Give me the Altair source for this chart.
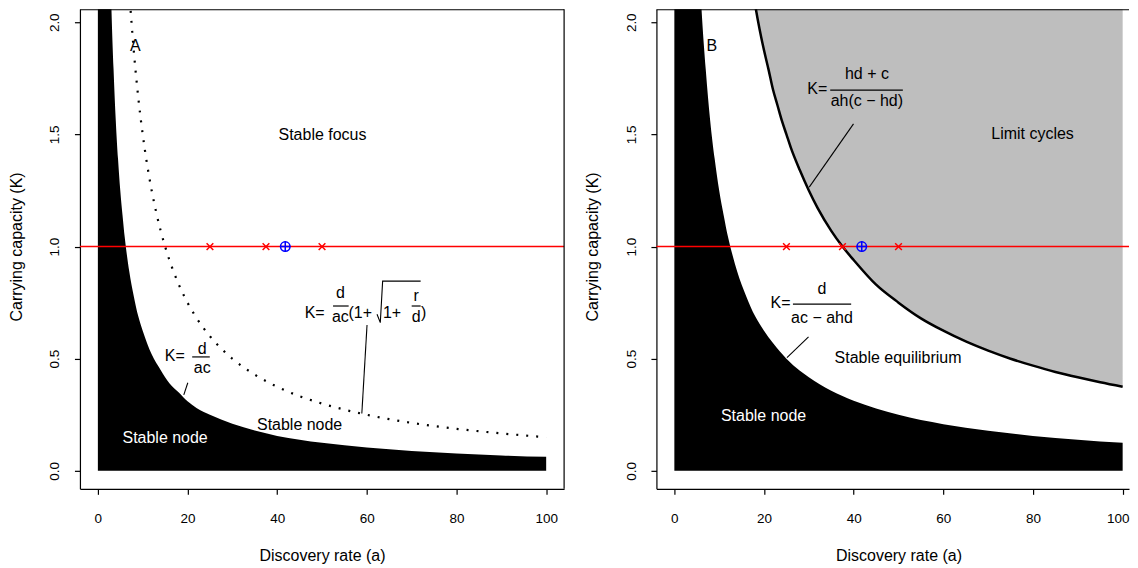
import altair as alt
import pandas as pd

FONT = "Liberation Sans"

# ---------------- axes / ticks ----------------
x_ticks = [0, 20, 40, 60, 80, 100]
y_ticks = [0.0, 0.5, 1.0, 1.5, 2.0]
x_title = "Discovery rate (a)"
y_title = "Carrying capacity (K)"

# ---------------- panel A data ----------------
# lower black region (stable node), boundary K = d/(ac)
a_black_A = [0, 2.5, 3, 3.5, 4, 4.5, 5, 5.5, 6, 7, 8, 9, 10, 12, 14, 16, 18, 20, 22, 25,
             30, 35, 40, 45, 50, 60, 70, 80, 90, 100]
K_black_A = [2.5, 2.5, 2.08, 1.79, 1.56, 1.39, 1.25, 1.14, 1.04, 0.89, 0.78, 0.69, 0.625, 0.52,
             0.45, 0.39, 0.35, 0.31, 0.28, 0.25, 0.21, 0.18, 0.156, 0.139, 0.125, 0.104,
             0.089, 0.078, 0.069, 0.0625]
# dotted boundary between stable node and stable focus
a_dot_A = [7, 7.5, 8, 9, 10, 11, 12, 13, 14, 15, 16, 18, 20, 22, 25, 28, 30, 35, 40, 45, 50,
           55, 60, 70, 80, 90, 100]
K_dot_A = [2.14, 2.0, 1.875, 1.667, 1.5, 1.364, 1.25, 1.154, 1.071, 1.0, 0.9375, 0.833, 0.75,
           0.682, 0.6, 0.536, 0.5, 0.429, 0.375, 0.333, 0.3, 0.273, 0.25, 0.214, 0.1875,
           0.167, 0.15]

# ---------------- panel B data ----------------
a_black_B = [0, 5, 6, 7, 8, 9, 10, 11, 12, 13, 14, 16, 18, 20, 22, 25, 28, 30, 35, 40, 45,
             50, 60, 70, 80, 90, 100]
K_black_B = [2.5, 2.5, 2.08, 1.79, 1.56, 1.39, 1.25, 1.14, 1.04, 0.96, 0.89, 0.78, 0.69,
             0.625, 0.57, 0.5, 0.446, 0.417, 0.357, 0.3125, 0.278, 0.25, 0.208, 0.179,
             0.156, 0.139, 0.125]
a_lim_B = [17, 18, 19, 20, 21, 22, 23, 24, 25, 26, 28, 30, 32, 35, 37.5, 40, 45, 50, 55, 60,
           65, 70, 75, 80, 85, 90, 95, 100]
K_lim_B = [2.21, 2.08, 1.97, 1.875, 1.79, 1.70, 1.63, 1.56, 1.5, 1.44, 1.34, 1.25, 1.17,
           1.07, 1.0, 0.94, 0.83, 0.75, 0.68, 0.625, 0.577, 0.536, 0.5, 0.469, 0.441,
           0.417, 0.395, 0.375]
K_lim_top = 2.3

# ---------------- markers on K = 1 ----------------
K_line = 1.0
cross_a = [25, 37.5, 50]
circle_a = [41.8]

# ---------------- text labels ----------------
A_lab = ["A", "Stable focus", "Stable node"]
A_lab_a = [8.36, 50.1, 45.0]
A_lab_K = [1.872, 1.474, 0.184]
A_white = ["Stable node"]
A_white_a = [15.0]
A_white_K = [0.124]
# formula pieces (centered)
A_fc = ["d", "ac", "d", "ac", "r", "d"]
A_fc_a = [23.27, 23.27, 54.09, 54.09, 71.0, 71.0]
A_fc_K = [0.520, 0.438, 0.769, 0.665, 0.757, 0.665]
A_fr = ["K=", "K="]
A_fr_a = [19.39, 50.59]
A_fr_K = [0.490, 0.683]
A_fl = ["(1+", "1+", ")"]
A_fl_a = [55.9, 63.6, 72.1]
A_fl_K = [0.683, 0.683, 0.683]
A_bar_a = [21.04, 52.46, 70.0]
A_bar_a2 = [24.96, 55.94, 72.0]
A_bar_K = [0.508, 0.735, 0.735]
A_sqrt_a = [62.27, 63.0, 63.52, 72.0]
A_sqrt_K = [0.698, 0.661, 0.846, 0.846]
A_ptr_a = [20.06, 60.04]
A_ptr_K = [0.393, 0.650]
A_ptr_a2 = [19.17, 58.88]
A_ptr_K2 = [0.339, 0.256]

B_lab = ["B", "Limit cycles", "Stable equilibrium"]
B_lab_a = [8.36, 79.9, 49.9]
B_lab_K = [1.872, 1.48, 0.482]
B_white = ["Stable node"]
B_white_a = [19.9]
B_white_K = [0.224]
B_fc = ["hd + c", "ah(c \u2212 hd)", "d", "ac \u2212 ahd"]
B_fc_a = [42.95, 42.95, 32.92, 32.92]
B_fc_K = [1.745, 1.626, 0.787, 0.661]
B_fr = ["K=", "K="]
B_fr_a = [34.1, 25.92]
B_fr_K = [1.678, 0.727]
B_bar_a = [34.77, 26.45]
B_bar_a2 = [50.97, 39.44]
B_bar_K = [1.697, 0.743]
B_ptr_a = [39.96, 29.93]
B_ptr_K = [1.547, 0.597]
B_ptr_a2 = [30.09, 25.12]
B_ptr_K2 = [1.265, 0.505]

# ---------------- layout ----------------
H = 480
W_A = 484.6
W_B = 473.0
xsA = alt.Scale(domain=[-4, 104], nice=False, zero=False)
xsB = alt.Scale(domain=[-4, -4 + W_B / 4.487], nice=False, zero=False)
ys = alt.Scale(domain=[-0.08, 2.058], nice=False, zero=False)


def x_axis(tx, last_shift=0.0):
    return alt.Axis(title=x_title, values=x_ticks, format="d", tickSize=5.5,
                    labelPadding=28.5, labelBaseline="alphabetic", labelFlush=False,
                    labelOverlap=False,
                    labelOffset={"condition": {"test": "datum.value == 100",
                                               "value": last_shift}, "value": 0},
                    titleX=tx, titleY=71.3, titleAlign="center",
                    titleBaseline="alphabetic", grid=False)


y_axis = alt.Axis(title=y_title, values=y_ticks, format=".1f", tickSize=5.5,
                  labelAngle=270, labelAlign="center", labelBaseline="alphabetic",
                  labelPadding=15.5, labelFlush=False, labelOverlap=False,
                  titleAngle=270, titleX=-58.5, titleY=237.4, titleAlign="center",
                  titleBaseline="alphabetic", grid=False)

XAX_A = x_axis(242.3)
XAX_B = x_axis(242.3, -5.0)


def enc(xs, xf="a", yf="K"):
    xax = XAX_A if xs is xsA else XAX_B
    return dict(x=alt.X(f"{xf}:Q", scale=xs, axis=xax),
                y=alt.Y(f"{yf}:Q", scale=ys, axis=y_axis))


def texts(xs, labels, aa, kk, align, color="black", size=16):
    df = pd.DataFrame({"a": aa, "K": kk, "t": labels})
    return alt.Chart(df).mark_text(font=FONT, fontSize=size, align=align,
                                   baseline="alphabetic", color=color).encode(
        **enc(xs), text="t:N")


def bars(xs, a1, a2, kk):
    df = pd.DataFrame({"a": a1, "a2": a2, "K": kk})
    return alt.Chart(df).mark_rule(color="black", strokeWidth=1.2).encode(
        **enc(xs), x2="a2:Q")


def pointers(xs, a1, k1, a2, k2):
    df = pd.DataFrame({"a": a1, "K": k1, "a2": a2, "K2": k2})
    return alt.Chart(df).mark_rule(color="black", strokeWidth=1.1).encode(
        **enc(xs), x2="a2:Q", y2="K2:Q")


def markers(xs):
    dx = pd.DataFrame({"a": cross_a, "K": [K_line] * len(cross_a)})
    dc = pd.DataFrame({"a": circle_a, "K": [K_line] * len(circle_a)})
    red = alt.Chart(pd.DataFrame({"K": [K_line]})).mark_rule(
        color="#FF0000", strokeWidth=1.5).encode(y=alt.Y("K:Q", scale=ys, axis=y_axis))
    xs_m = alt.Chart(dx).mark_point(shape="M -1 -1 L 1 1 M -1 1 L 1 -1", filled=False,
                                    color="#FF0000", strokeWidth=1.5, size=45,
                                    opacity=1).encode(**enc(xs))
    circ = alt.Chart(dc).mark_point(shape="circle", filled=False, color="#0000FF",
                                    strokeWidth=1.5, size=90, opacity=1).encode(**enc(xs))
    plus = alt.Chart(dc).mark_point(shape="M -1 0 L 1 0 M 0 -1 L 0 1", filled=False,
                                    color="#0000FF", strokeWidth=1.5, size=115,
                                    opacity=1).encode(**enc(xs))
    return [red, xs_m, circ, plus]


one = pd.DataFrame({"z": [0]})

# ---------------- panel A ----------------
blackA = alt.Chart(pd.DataFrame({"a": a_black_A, "K": K_black_A})).mark_area(
    color="black", interpolate="monotone", clip=True).encode(
    **enc(xsA), y2=alt.datum(0))
dotA = alt.Chart(pd.DataFrame({"a": a_dot_A, "K": K_dot_A})).mark_line(
    color="black", strokeWidth=2.2, strokeDash=[2, 8], interpolate="monotone",
    clip=True).encode(**enc(xsA))
sqrtA = alt.Chart(pd.DataFrame({"a": A_sqrt_a, "K": A_sqrt_K,
                                "o": list(range(len(A_sqrt_a)))})).mark_line(
    color="black", strokeWidth=1.1).encode(**enc(xsA), order="o:Q")
topA = alt.Chart(one).mark_rule(color="black", strokeWidth=1.2).encode(
    x=alt.value(0), x2=alt.value(W_A), y=alt.value(0.5))
rightA = alt.Chart(one).mark_rule(color="black", strokeWidth=1.2).encode(
    x=alt.value(W_A), y=alt.value(0), y2=alt.value(H))
anchorA = alt.Chart(one).mark_rule(color="white", strokeWidth=1).encode(
    x=alt.value(-71.35), y=alt.value(2), y2=alt.value(6))

panelA = alt.layer(
    blackA, dotA, *markers(xsA),
    pointers(xsA, A_ptr_a, A_ptr_K, A_ptr_a2, A_ptr_K2),
    bars(xsA, A_bar_a, A_bar_a2, A_bar_K), sqrtA,
    texts(xsA, A_lab, A_lab_a, A_lab_K, "center"),
    texts(xsA, A_white, A_white_a, A_white_K, "center", color="white"),
    texts(xsA, A_fc, A_fc_a, A_fc_K, "center"),
    texts(xsA, A_fr, A_fr_a, A_fr_K, "right"),
    texts(xsA, A_fl, A_fl_a, A_fl_K, "left"),
    topA, rightA, anchorA,
).properties(width=W_A, height=H)

# ---------------- panel B ----------------
grayB = alt.Chart(pd.DataFrame({"a": a_lim_B, "K": K_lim_B})).mark_area(
    color="#BEBEBE", interpolate="monotone", clip=True, opacity=1).encode(
    **enc(xsB), y2=alt.datum(K_lim_top))
blackB = alt.Chart(pd.DataFrame({"a": a_black_B, "K": K_black_B})).mark_area(
    color="black", interpolate="monotone", clip=True).encode(**enc(xsB), y2=alt.datum(0))
limB = alt.Chart(pd.DataFrame({"a": a_lim_B, "K": K_lim_B})).mark_line(
    color="black", strokeWidth=2.5, interpolate="monotone", clip=True).encode(**enc(xsB))
topB = alt.Chart(one).mark_rule(color="black", strokeWidth=1.2).encode(
    x=alt.value(0), x2=alt.value(W_B), y=alt.value(0.5))

panelB = alt.layer(
    grayB, blackB, limB, *markers(xsB),
    pointers(xsB, B_ptr_a, B_ptr_K, B_ptr_a2, B_ptr_K2),
    bars(xsB, B_bar_a, B_bar_a2, B_bar_K),
    texts(xsB, B_lab, B_lab_a, B_lab_K, "center"),
    texts(xsB, B_white, B_white_a, B_white_K, "center", color="white"),
    texts(xsB, B_fc, B_fc_a, B_fc_K, "center"),
    texts(xsB, B_fr, B_fr_a, B_fr_K, "right"),
    topB,
).properties(width=W_B, height=H)

chart = alt.hconcat(panelA, panelB, spacing=92, bounds="flush", padding=0).configure_view(
    stroke=None
).configure_axis(
    domainColor="black", domainWidth=1.2, tickColor="black", tickWidth=1.2,
    labelFont=FONT, labelFontSize=13.5, labelColor="black",
    titleFont=FONT, titleFontSize=16, titleColor="black", titleFontWeight="normal",
)

chart.save("out.html", embed_options={"renderer": "svg", "actions": False})
